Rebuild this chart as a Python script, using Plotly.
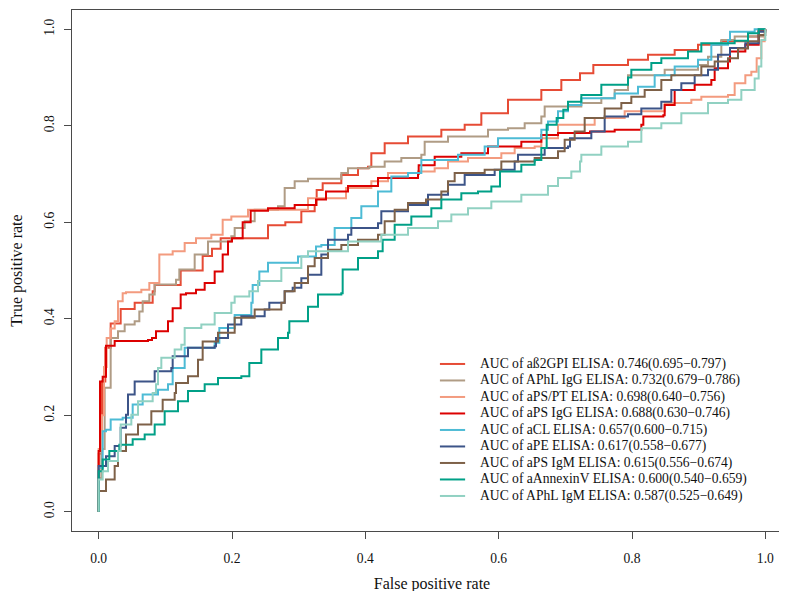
import plotly.graph_objects as go

# ---------------- data ----------------
assays = ["aß2GPI", "APhL IgG", "aPS/PT", "aPS IgG", "aCL", "aPE",
          "aPS IgM", "aAnnexinV", "APhL IgM"]
auc = [0.746, 0.732, 0.698, 0.688, 0.657, 0.617, 0.615, 0.600, 0.587]
auc_lo = [0.695, 0.679, 0.640, 0.630, 0.600, 0.558, 0.556, 0.540, 0.525]
auc_hi = [0.797, 0.786, 0.756, 0.746, 0.715, 0.677, 0.674, 0.659, 0.649]
colors = ["#E64B35", "#B09C85", "#F39B7F", "#DC0000", "#4DBBD5",
          "#3C5488", "#7E6148", "#00A087", "#91D1C2"]

fpr_b2gpi = [0, 0, 0.005, 0.01, 0.018, 0.033, 0.054, 0.081, 0.084, 0.123, 0.156, 0.17,
             0.183, 0.24, 0.254, 0.28, 0.304, 0.324, 0.327, 0.336, 0.364, 0.389, 0.404,
             0.409, 0.429, 0.464, 0.514, 0.549, 0.574, 0.614, 0.664, 0.694, 0.722, 0.742,
             0.794, 0.824, 0.864, 0.899, 0.934, 0.974, 0.99, 1.0]
tpr_b2gpi = [0, 0.12, 0.27, 0.34, 0.39, 0.42, 0.433, 0.457, 0.47, 0.50, 0.53, 0.545,
             0.567, 0.567, 0.594, 0.60, 0.623, 0.636, 0.667, 0.681, 0.698, 0.712, 0.715,
             0.743, 0.764, 0.778, 0.792, 0.802, 0.826, 0.854, 0.874, 0.895, 0.909, 0.926,
             0.937, 0.947, 0.957, 0.968, 0.975, 0.985, 1.0, 1.0]

fpr_aphl_igg = [0, 0, 0.004, 0.009, 0.018, 0.029, 0.039, 0.054, 0.061, 0.066, 0.076, 0.084,
                0.116, 0.121, 0.144, 0.164, 0.199, 0.204, 0.219, 0.234, 0.269, 0.279, 0.294,
                0.314, 0.364, 0.374, 0.406, 0.429, 0.454, 0.484, 0.489, 0.524, 0.584, 0.614,
                0.639, 0.664, 0.669, 0.724, 0.754, 0.774, 0.794, 0.849, 0.899, 0.914, 0.934,
                0.954, 0.999, 1.0]
tpr_aphl_igg = [0, 0.07, 0.13, 0.257, 0.36, 0.374, 0.388, 0.395, 0.415, 0.436, 0.45, 0.471,
                0.481, 0.502, 0.533, 0.56, 0.571, 0.588, 0.602, 0.626, 0.633, 0.671, 0.685,
                0.69, 0.702, 0.712, 0.715, 0.726, 0.733, 0.74, 0.767, 0.778, 0.792, 0.795,
                0.805, 0.819, 0.84, 0.847, 0.857, 0.874, 0.905, 0.916, 0.926, 0.943, 0.978,
                0.985, 1.0, 1.0]

fpr_aps_pt = [0, 0, 0.005, 0.008, 0.012, 0.018, 0.024, 0.029, 0.036, 0.041, 0.064, 0.076,
              0.091, 0.111, 0.129, 0.146, 0.169, 0.186, 0.199, 0.224, 0.274, 0.314, 0.371,
              0.409, 0.434, 0.479, 0.504, 0.524, 0.554, 0.604, 0.624, 0.654, 0.664, 0.689,
              0.744, 0.789, 0.849, 0.889, 0.904, 0.944, 0.954, 0.97, 0.979, 0.987, 0.994,
              0.999, 1.0]
tpr_aps_pt = [0, 0.13, 0.2, 0.3, 0.36, 0.38, 0.395, 0.436, 0.453, 0.455, 0.46, 0.474,
              0.533, 0.54, 0.557, 0.567, 0.574, 0.605, 0.612, 0.626, 0.626, 0.65, 0.671,
              0.685, 0.702, 0.705, 0.712, 0.726, 0.733, 0.743, 0.754, 0.757, 0.774, 0.802,
              0.816, 0.83, 0.847, 0.854, 0.86, 0.864, 0.888, 0.905, 0.912, 0.94, 0.975,
              1.0, 1.0]

fpr_aps_igg = [0, 0, 0.002, 0.006, 0.011, 0.024, 0.074, 0.08, 0.086, 0.104, 0.111, 0.123,
               0.131, 0.146, 0.159, 0.174, 0.186, 0.194, 0.2, 0.216, 0.228, 0.254, 0.294,
               0.326, 0.341, 0.374, 0.419, 0.479, 0.48, 0.504, 0.544, 0.584, 0.634, 0.664,
               0.689, 0.737, 0.774, 0.814, 0.817, 0.847, 0.849, 0.864, 0.894, 0.919, 0.924,
               0.944, 0.947, 0.97, 0.99, 1.0]
tpr_aps_igg = [0, 0.126, 0.27, 0.28, 0.344, 0.354, 0.356, 0.36, 0.374, 0.395, 0.422, 0.45,
               0.453, 0.46, 0.474, 0.498, 0.533, 0.56, 0.567, 0.60, 0.624, 0.629, 0.636,
               0.647, 0.664, 0.675, 0.692, 0.70, 0.718, 0.736, 0.743, 0.757, 0.767, 0.781,
               0.785, 0.788, 0.792, 0.802, 0.819, 0.822, 0.843, 0.874, 0.885, 0.895, 0.919,
               0.933, 0.954, 0.968, 0.998, 1.0]

fpr_acl = [0, 0, 0.006, 0.011, 0.018, 0.036, 0.051, 0.066, 0.089, 0.104, 0.111, 0.129,
           0.174, 0.181, 0.204, 0.229, 0.231, 0.241, 0.254, 0.299, 0.326, 0.334, 0.354,
           0.379, 0.394, 0.419, 0.439, 0.464, 0.484, 0.539, 0.579, 0.599, 0.644, 0.664,
           0.674, 0.689, 0.704, 0.724, 0.774, 0.809, 0.834, 0.864, 0.899, 0.919, 0.944,
           0.947, 0.984, 1.0]
tpr_acl = [0, 0.091, 0.167, 0.17, 0.191, 0.195, 0.222, 0.243, 0.253, 0.264, 0.298, 0.34,
           0.35, 0.381, 0.408, 0.433, 0.47, 0.498, 0.516, 0.529, 0.55, 0.553, 0.588,
           0.609, 0.633, 0.664, 0.695, 0.702, 0.729, 0.74, 0.757, 0.774, 0.774, 0.792,
           0.809, 0.83, 0.843, 0.857, 0.867, 0.881, 0.905, 0.923, 0.937, 0.968, 0.978,
           0.995, 1.0, 1.0]

fpr_ape = [0, 0, 0.011, 0.024, 0.033, 0.041, 0.044, 0.054, 0.084, 0.109, 0.111, 0.134,
           0.174, 0.176, 0.194, 0.214, 0.249, 0.256, 0.279, 0.291, 0.304, 0.314, 0.334,
           0.344, 0.374, 0.379, 0.419, 0.424, 0.464, 0.494, 0.524, 0.549, 0.594, 0.624,
           0.629, 0.669, 0.704, 0.707, 0.739, 0.759, 0.794, 0.814, 0.844, 0.859, 0.874,
           0.894, 0.914, 0.929, 0.947, 0.97, 0.99, 1.0]
tpr_ape = [0, 0.095, 0.115, 0.136, 0.174, 0.201, 0.243, 0.27, 0.291, 0.298, 0.322, 0.34,
           0.343, 0.36, 0.388, 0.405, 0.419, 0.433, 0.457, 0.464, 0.484, 0.491, 0.533,
           0.564, 0.574, 0.588, 0.598, 0.623, 0.636, 0.657, 0.678, 0.698, 0.709, 0.726,
           0.74, 0.754, 0.757, 0.774, 0.788, 0.819, 0.824, 0.836, 0.85, 0.874, 0.888,
           0.905, 0.916, 0.947, 0.961, 0.971, 0.995, 1.0]

fpr_aps_igm = [0, 0, 0.011, 0.024, 0.029, 0.041, 0.059, 0.079, 0.096, 0.114, 0.116, 0.134,
               0.149, 0.156, 0.179, 0.204, 0.234, 0.274, 0.279, 0.294, 0.314, 0.324, 0.344,
               0.364, 0.389, 0.419, 0.429, 0.444, 0.464, 0.491, 0.514, 0.524, 0.534, 0.579,
               0.604, 0.654, 0.689, 0.699, 0.714, 0.729, 0.759, 0.784, 0.799, 0.819, 0.844,
               0.859, 0.904, 0.924, 0.944, 0.959, 0.974, 0.99, 1.0]
tpr_aps_igm = [0, 0.043, 0.067, 0.095, 0.126, 0.16, 0.181, 0.208, 0.232, 0.246, 0.267, 0.281,
               0.315, 0.353, 0.371, 0.402, 0.419, 0.433, 0.457, 0.474, 0.509, 0.526, 0.543,
               0.553, 0.564, 0.574, 0.602, 0.626, 0.64, 0.647, 0.664, 0.685, 0.702, 0.709,
               0.726, 0.733, 0.747, 0.771, 0.788, 0.816, 0.836, 0.847, 0.86, 0.874, 0.895,
               0.905, 0.923, 0.933, 0.94, 0.96, 0.975, 0.988, 1.0]

fpr_annexin = [0, 0, 0.006, 0.016, 0.031, 0.044, 0.051, 0.069, 0.084, 0.099, 0.119, 0.134,
               0.159, 0.179, 0.214, 0.226, 0.244, 0.269, 0.284, 0.286, 0.314, 0.329, 0.364,
               0.366, 0.389, 0.419, 0.426, 0.444, 0.469, 0.499, 0.514, 0.544, 0.569, 0.589,
               0.602, 0.634, 0.654, 0.664, 0.672, 0.687, 0.697, 0.704, 0.724, 0.754, 0.794,
               0.799, 0.829, 0.844, 0.884, 0.904, 0.954, 0.974, 0.99, 1.0]
tpr_annexin = [0, 0.084, 0.108, 0.126, 0.139, 0.139, 0.15, 0.16, 0.181, 0.208, 0.229, 0.25,
               0.264, 0.277, 0.281, 0.308, 0.336, 0.36, 0.371, 0.395, 0.425, 0.45, 0.453,
               0.502, 0.526, 0.54, 0.564, 0.595, 0.612, 0.629, 0.647, 0.66, 0.664, 0.674,
               0.705, 0.719, 0.729, 0.754, 0.802, 0.816, 0.833, 0.85, 0.864, 0.885, 0.9,
               0.916, 0.93, 0.94, 0.954, 0.971, 0.976, 0.992, 1.0, 1.0]

fpr_aphl_igm = [0, 0, 0.006, 0.014, 0.029, 0.033, 0.049, 0.059, 0.081, 0.086, 0.089, 0.094,
                0.114, 0.124, 0.129, 0.154, 0.174, 0.199, 0.204, 0.226, 0.239, 0.274, 0.304,
                0.314, 0.374, 0.424, 0.464, 0.509, 0.529, 0.554, 0.589, 0.634, 0.674, 0.689,
                0.709, 0.722, 0.724, 0.754, 0.794, 0.814, 0.844, 0.874, 0.914, 0.944, 0.964,
                0.984, 0.99, 0.994, 1.0]
tpr_aphl_igm = [0, 0.067, 0.084, 0.105, 0.126, 0.181, 0.201, 0.229, 0.246, 0.264, 0.298, 0.319,
                0.336, 0.346, 0.381, 0.388, 0.412, 0.433, 0.446, 0.457, 0.478, 0.505, 0.529,
                0.54, 0.56, 0.574, 0.588, 0.602, 0.616, 0.629, 0.643, 0.657, 0.675, 0.692,
                0.705, 0.726, 0.74, 0.757, 0.767, 0.795, 0.805, 0.826, 0.847, 0.854, 0.874,
                0.898, 0.923, 0.978, 1.0]

fprs = [fpr_b2gpi, fpr_aphl_igg, fpr_aps_pt, fpr_aps_igg, fpr_acl, fpr_ape,
        fpr_aps_igm, fpr_annexin, fpr_aphl_igm]
tprs = [tpr_b2gpi, tpr_aphl_igg, tpr_aps_pt, tpr_aps_igg, tpr_acl, tpr_ape,
        tpr_aps_igm, tpr_annexin, tpr_aphl_igm]

tick_vals = [0.0, 0.2, 0.4, 0.6, 0.8, 1.0]
tick_text = ["0.0", "0.2", "0.4", "0.6", "0.8", "1.0"]

# ---------------- figure ----------------
FONT = "Liberation Serif, Times New Roman, serif"
AXIS_COL = "#4a4a4a"

labels = [f"AUC of {a} ELISA: {v:.3f}({lo:.3f}\u2212{hi:.3f})"
          for a, v, lo, hi in zip(assays, auc, auc_lo, auc_hi)]

fig = go.Figure()
for lab, col, fx, ty in zip(labels, colors, fprs, tprs):
    fig.add_trace(go.Scatter(x=fx, y=ty, mode="lines", name=lab,
                             line=dict(color=col, width=2, shape="hv"),
                             showlegend=False, hoverinfo="name"))

# legend drawn in the lower-right corner of the plot area (paper coords)
leg_x0, leg_x1, leg_tx = 0.511, 0.546, 0.564
leg_y0, leg_dy = 0.3206, 0.03167
for i, (lab, col) in enumerate(zip(labels, colors)):
    yy = leg_y0 - i * leg_dy
    fig.add_shape(type="line", xref="paper", yref="paper",
                  x0=leg_x0, x1=leg_x1, y0=yy, y1=yy,
                  line=dict(color=col, width=2))
    fig.add_annotation(xref="paper", yref="paper", x=leg_tx, y=yy,
                       xanchor="left", yanchor="middle", text=lab,
                       showarrow=False,
                       font=dict(family=FONT, size=13.6, color="#111"))

axis_common = dict(
    range=[-0.04, 1.04], tickvals=tick_vals, ticktext=tick_text,
    showgrid=False, zeroline=False, showline=True, mirror=True,
    linecolor=AXIS_COL, linewidth=1.2, ticks="outside", ticklen=7,
    tickwidth=1.2, tickcolor=AXIS_COL,
    tickfont=dict(family=FONT, size=13.6, color="#111"),
)

fig.update_xaxes(**axis_common, ticklabelstandoff=8,
                 title=dict(text="False positive rate", standoff=12,
                            font=dict(family=FONT, size=16, color="#111")))
fig.update_yaxes(**axis_common, tickangle=-90, ticklabelstandoff=4,
                 title=dict(text="True positive rate", standoff=17,
                            font=dict(family=FONT, size=16, color="#111")))

fig.update_layout(
    width=787, height=591,
    margin=dict(l=64, r=3, t=2, b=68, autoexpand=False),
    paper_bgcolor="white", plot_bgcolor="white",
    font=dict(family=FONT, color="#111"),
)

fig.write_html("out.html")
